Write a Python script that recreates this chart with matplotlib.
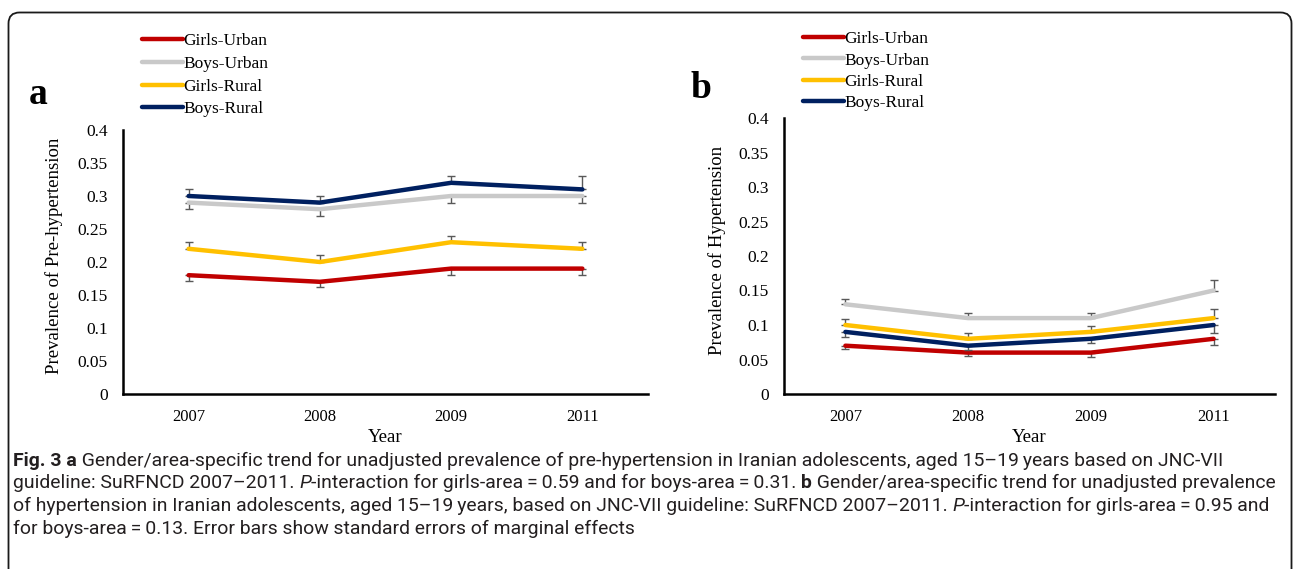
import matplotlib
matplotlib.use('Agg')
import matplotlib.pyplot as plt
from matplotlib.patches import FancyBboxPatch
from matplotlib.lines import Line2D
from matplotlib.transforms import IdentityTransform
from matplotlib import font_manager as fm

# ---- data -------------------------------------------------------------
years = ['2007', '2008', '2009', '2011']
series = ['Girls-Urban', 'Boys-Urban', 'Girls-Rural', 'Boys-Rural']
colors = ['#C00000', '#C9C9C9', '#FFC000', '#002060']

# panel a: prevalence of pre-hypertension
pre_girls_urban = [0.18, 0.17, 0.19, 0.19]
pre_boys_urban = [0.29, 0.28, 0.30, 0.30]
pre_girls_rural = [0.22, 0.20, 0.23, 0.22]
pre_boys_rural = [0.30, 0.29, 0.32, 0.31]
# error bars (lower, upper) as drawn in the figure
pre_err_girls_urban = ([0.009, 0.008, 0.01, 0.01], [0, 0, 0, 0])
pre_err_boys_urban = ([0.01, 0.01, 0.01, 0.01], [0, 0, 0, 0])
pre_err_girls_rural = ([0, 0, 0, 0], [0.01, 0.01, 0.01, 0.01])
pre_err_boys_rural = ([0, 0, 0, 0], [0.01, 0.01, 0.01, 0.02])

# panel b: prevalence of hypertension
hyp_girls_urban = [0.07, 0.06, 0.06, 0.08]
hyp_boys_urban = [0.13, 0.11, 0.11, 0.15]
hyp_girls_rural = [0.10, 0.08, 0.09, 0.11]
hyp_boys_rural = [0.09, 0.07, 0.08, 0.10]
hyp_err_girls_urban = ([0.005, 0.005, 0.006, 0.0095], [0, 0, 0, 0])
hyp_err_boys_urban = ([0, 0, 0, 0], [0.008, 0.008, 0.008, 0.015])
hyp_err_girls_rural = ([0, 0, 0, 0], [0.009, 0.009, 0.009, 0.013])
hyp_err_boys_rural = ([0.008, 0.006, 0.0065, 0.011], [0, 0, 0, 0])

yticks = [0, 0.05, 0.1, 0.15, 0.2, 0.25, 0.3, 0.35, 0.4]
ytick_labels = ['0', '0.05', '0.1', '0.15', '0.2', '0.25', '0.3', '0.35', '0.4']

caption = [
    [('Fig. 3 a', 'bold', 'normal'),
     (' Gender/area-specific trend for unadjusted prevalence of pre-hypertension in Iranian adolescents, aged 15\u201319\u2009years based on JNC-VII', 'normal', 'normal')],
    [('guideline: SuRFNCD 2007\u20132011. ', 'normal', 'normal'), ('P', 'normal', 'italic'),
     ('-interaction for girls-area\u2009=\u20090.59 and for boys-area\u2009=\u20090.31. ', 'normal', 'normal'),
     ('b', 'bold', 'normal'),
     (' Gender/area-specific trend for unadjusted prevalence', 'normal', 'normal')],
    [('of hypertension in Iranian adolescents, aged 15\u201319\u2009years, based on JNC-VII guideline: SuRFNCD 2007\u20132011. ', 'normal', 'normal'),
     ('P', 'normal', 'italic'),
     ('-interaction for girls-area\u2009=\u20090.95 and', 'normal', 'normal')],
    [('for boys-area\u2009=\u20090.13. Error bars show standard errors of marginal effects', 'normal', 'normal')],
]

# ---- fonts -------------------------------------------------------------
def have(name):
    try:
        fm.findfont(name, fallback_to_default=False)
        return True
    except Exception:
        return False

serif = ['Liberation Serif', 'DejaVu Serif']
cap_font = 'Liberation Sans Narrow' if have('Liberation Sans Narrow') else 'Roboto'
cap_family = [cap_font, 'DejaVu Sans']
cap_size = 12.5 if cap_font == 'Liberation Sans Narrow' else 13.95

W, H = 1293, 569
fig = plt.figure(figsize=(W / 100, H / 100), dpi=100)
fig.patch.set_facecolor('white')


def fx(px):
    return px / W


def fy(py):
    return 1 - py / H


x = list(range(len(years)))


def draw_panel(rect, data, errs, ylabel, ylabel_x, letter, letter_xy, leg_xy, leg_spacing):
    ax = fig.add_axes(rect)
    for vals, (lo, up), c in zip(data, errs, colors):
        ax.errorbar(x, vals, yerr=[lo, up], fmt='none', ecolor='#595959',
                    elinewidth=1.0, capsize=3, capthick=1.0)
        ax.plot(x, vals, color=c, lw=3.2, solid_capstyle='round',
                solid_joinstyle='round')
    ax.set_xlim(-0.5, 3.5)
    ax.set_ylim(0, 0.4)
    ax.set_xticks(x)
    ax.set_xticklabels(years, family=serif, fontsize=12)
    ax.set_yticks(yticks)
    ax.set_yticklabels(ytick_labels, family=serif, fontsize=12.5)
    ax.tick_params(axis='both', length=0)
    ax.tick_params(axis='x', pad=11)
    ax.tick_params(axis='y', pad=11)
    for s in ['top', 'right']:
        ax.spines[s].set_visible(False)
    for s in ['left', 'bottom']:
        ax.spines[s].set_linewidth(1.8)
        ax.spines[s].set_color('black')
    ax.patch.set_alpha(0)

    pos = ax.get_position()
    fig.text((pos.x0 + pos.x1) / 2, fy(438), 'Year', ha='center', va='center',
             family=serif, fontsize=13.5)
    fig.text(fx(ylabel_x), (pos.y0 + pos.y1) / 2 + 0.01, ylabel, rotation=90,
             ha='center', va='center', family=serif, fontsize=13.5)
    fig.text(fx(letter_xy[0]), fy(letter_xy[1]), letter, ha='center', va='center',
             family=serif, fontsize=27, fontweight='bold')

    handles = [Line2D([], [], color=c, lw=3.2, solid_capstyle='round') for c in colors]
    fig.legend(handles, series, loc='upper left',
               bbox_to_anchor=(fx(leg_xy[0]), fy(leg_xy[1])),
               frameon=False, prop={'family': serif, 'size': 12.5},
               handlelength=2.35, handletextpad=0.05, labelspacing=leg_spacing,
               borderpad=0, borderaxespad=0)
    return ax


draw_panel([fx(123), fy(394), fx(648) - fx(123), fy(130) - fy(394)],
           [pre_girls_urban, pre_boys_urban, pre_girls_rural, pre_boys_rural],
           [pre_err_girls_urban, pre_err_boys_urban, pre_err_girls_rural, pre_err_boys_rural],
           'Prevalence of Pre-hypertension', 54, 'a', (38, 95), (142, 33), 0.38)

draw_panel([fx(784), fy(394), fx(1275) - fx(784), fy(118) - fy(394)],
           [hyp_girls_urban, hyp_boys_urban, hyp_girls_rural, hyp_boys_rural],
           [hyp_err_girls_urban, hyp_err_boys_urban, hyp_err_girls_rural, hyp_err_boys_rural],
           'Prevalence of Hypertension', 717, 'b', (701, 89), (803, 31), 0.3)

# ---- caption, one line at a time with mixed styles ----------------------
line_y = [460, 482.5, 505, 527.5]
for segs, ly in zip(caption, line_y):
    prev = None
    for txt, weight, style in segs:
        kw = dict(family=cap_family, fontsize=cap_size, fontweight=weight,
                  fontstyle=style, color='#231F20', va='bottom', ha='left')
        if prev is None:
            prev = fig.text(fx(13), fy(ly + 10), txt, **kw)
        else:
            prev = fig.add_artist(plt.Annotation(txt, xy=(1, 0), xycoords=prev, **kw))

# rounded frame around the figure
frame = FancyBboxPatch((8.5, -30), 1283, H - 12.5 + 30,
                       boxstyle='round,pad=0,rounding_size=11',
                       transform=IdentityTransform(), fill=False,
                       lw=1.3, ec='#1A1A1A')
fig.add_artist(frame)

fig.savefig('out.png', dpi=100)
